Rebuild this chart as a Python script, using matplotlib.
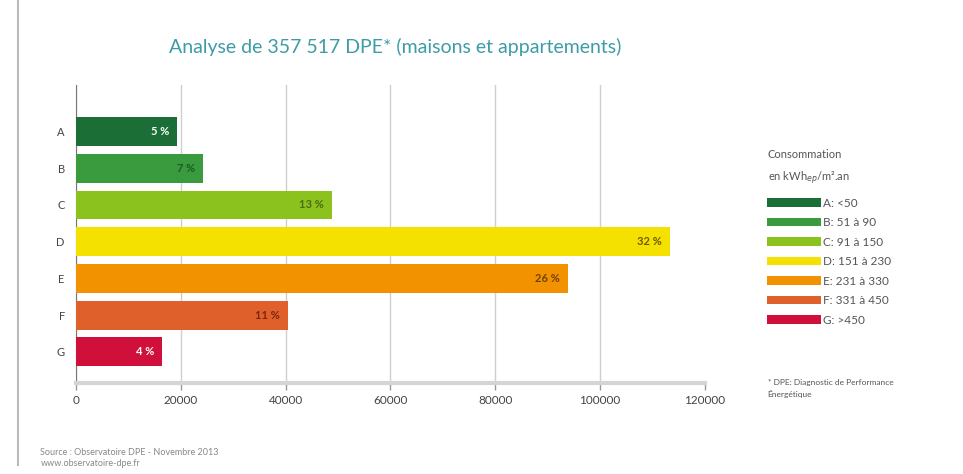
import numpy as np
import matplotlib.pyplot as plt
from matplotlib.lines import Line2D

# classes DPE et nombre de logements
classes = ["A", "B", "C", "D", "E", "F", "G"]
nb_logements = [19270, 24230, 48840, 113320, 93860, 40450, 16410]
pourcentages = ["5 %", "7 %", "13 %", "32 %", "26 %", "11 %", "4 %"]
legende = ["A: <50", "B: 51 à 90", "C: 91 à 150", "D: 151 à 230",
           "E: 231 à 330", "F: 331 à 450", "G: >450"]
couleurs = ["#1b6e35", "#3a9a3e", "#8cc21e", "#f5e100", "#f39200", "#e0602b", "#d0103a"]
couleurs_txt = ["white", "#1f5a28", "#4d6b12", "#6a5d00", "#6e4200", "#7c2610", "white"]

plt.rcParams['font.family'] = ['Lato', 'DejaVu Sans']

fig = plt.figure(figsize=(9.63, 4.74), dpi=100)
ax = fig.add_axes([0.0789, 0.192, 0.6532, 0.6287])

y = np.arange(len(classes))
bars = ax.barh(y, nb_logements, height=0.79, color=couleurs, zorder=3)
for b, lab in zip(bars, legende):
    b.set_label(lab)

# pourcentages dans les barres
for i in range(len(classes)):
    ax.text(nb_logements[i] - 1500, y[i], pourcentages[i], ha="right", va="center",
            fontsize=8, fontweight="bold", color=couleurs_txt[i], zorder=4)

ax.set_xlim(0, 120000)
ax.set_ylim(6.85, -1.27)
ax.set_xticks(np.arange(0, 120001, 20000))
ax.set_yticks(y)
ax.set_yticklabels(classes)
ax.grid(axis="x", color="#cfcfcf", linewidth=1, zorder=0)
ax.get_xgridlines()[-1].set_visible(False)
ax.tick_params(axis="y", length=0, labelsize=8, colors="#444444", pad=8)
ax.tick_params(axis="x", length=5, width=1, color="#999999", labelsize=8.5,
               labelcolor="#444444", pad=4)
for s in ["top", "right"]:
    ax.spines[s].set_visible(False)
ax.spines["left"].set_color("#777777")
ax.spines["bottom"].set_color("#d5d5d5")
ax.spines["bottom"].set_linewidth(3)

fig.text(0.41, 0.90, "Analyse de 357 517 DPE* (maisons et appartements)",
         ha="center", va="center", fontsize=14, color="#3d9ca6")

leg = fig.legend(handles=list(bars), loc="upper left", bbox_to_anchor=(0.796, 0.583),
                 frameon=False, fontsize=8.5, handlelength=4.6, handleheight=0.7,
                 handletextpad=0.2, labelspacing=0.72, borderaxespad=0, borderpad=0,
                 labelcolor="#555555")
fig.text(0.797, 0.685, "Consommation\nen kWh$_{ep}$/m².an", ha="left", va="top",
         fontsize=8, color="#555555", linespacing=1.8)

fig.text(0.797, 0.181, "* DPE: Diagnostic de Performance\nÉnergétique", ha="left",
         va="center", fontsize=6, color="#555555", linespacing=1.6)

fig.text(0.042, 0.034, "Source : Observatoire DPE - Novembre 2013\nwww.observatoire-dpe.fr",
         ha="left", va="center", fontsize=6.5, color="#888888", linespacing=1.2)

fig.add_artist(Line2D([0.0187, 0.0187], [0.02, 1.0], transform=fig.transFigure,
                      color="#bbbbbb", linewidth=1.5))

plt.savefig("out.png", dpi=100)
